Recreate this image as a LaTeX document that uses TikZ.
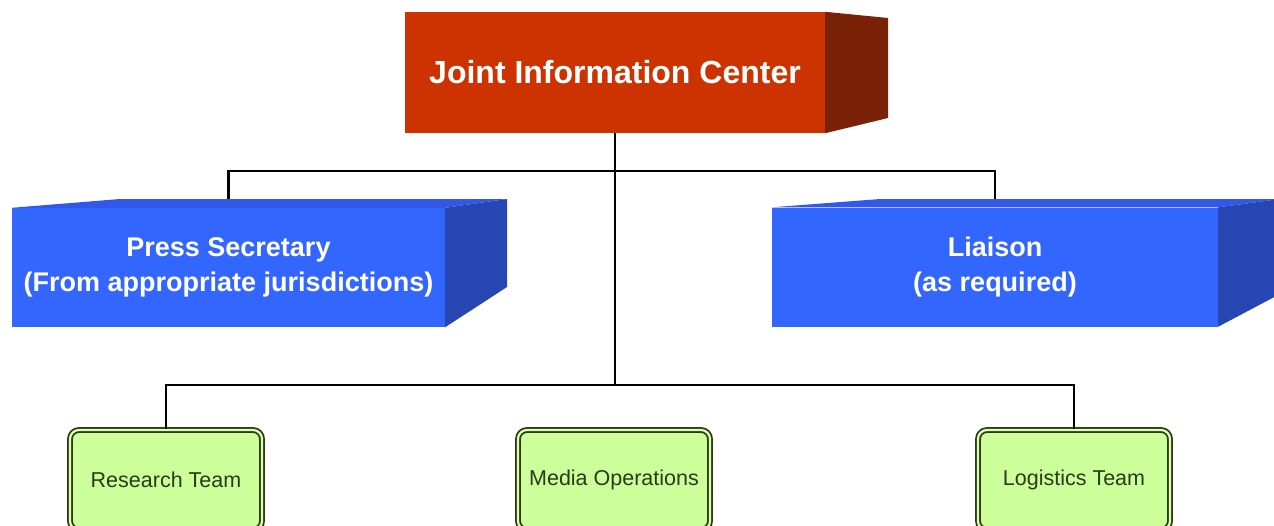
\documentclass[tikz,border=0pt]{standalone}
\usepackage{fontspec}
\setmainfont{Liberation Sans}
\definecolor{jicred}{HTML}{CC3300}
\definecolor{jicside}{HTML}{7A2208}
\definecolor{secblue}{HTML}{3366FF}
\definecolor{sectop}{HTML}{3158E8}
\definecolor{secside}{HTML}{2646B4}
\definecolor{teamfill}{HTML}{CCFF99}
\definecolor{teamline}{HTML}{2E3A10}
\definecolor{teamtext}{HTML}{2A3A1A}
\tikzset{
  jicbox/.style={fill=jicred, inner sep=0pt, minimum width=420pt, minimum height=121pt,
    text=white, font=\bfseries\fontsize{32}{36}\selectfont},
  secbox/.style={fill=secblue, inner sep=0pt, minimum height=119pt, align=center,
    text=white, font=\bfseries\fontsize{27}{35}\selectfont},
  teambox/.style={rounded corners=9pt, draw=teamline, line width=1.8pt, double=teamfill!70!white,
    double distance=2.2pt, fill=teamfill, minimum width=192pt, minimum height=100pt,
    inner sep=0pt, text=teamtext, font=\fontsize{21.5}{24}\selectfont},
  link/.style={line width=2.2pt, black}
}
\begin{document}
\begin{tikzpicture}[x=1pt, y=-1pt]
\useasboundingbox (0,0) rectangle (1274,525);
\clip (0,0) rectangle (1274,525);
\fill [white] (0,0) rectangle (1274,525);
% bus lines
\coordinate (upbus) at (0,171);
\coordinate (lowbus) at (0,385);
% boxes
\node [jicbox] (jic) at (615,72.5) {Joint Information Center};
\node [secbox, minimum width=433pt] (press) at (228.5,267.5) {Press Secretary\\(From appropriate jurisdictions)};
\node [secbox, minimum width=446pt] (liaison) at (995,267) {Liaison\\(as required)};
\node [teambox] (research) at (166,480) {Research Team};
\node [teambox] (media) at (614,480) {Media Operations};
\node [teambox] (logistics) at (1074,480) {Logistics Team};
%connectors
\draw [link] (jic.south) -- (jic.south |- lowbus);
\draw [link] (press.north) -- (press.north |- upbus) -- (liaison.north |- upbus) -- (liaison.north);
\draw [link] (research.north) -- (research.north |- lowbus) -- (logistics.north |- lowbus) -- (logistics.north);
%3d faces
\fill [jicside] (jic.north east) -- (888,18) -- (888,118) -- (jic.south east) -- cycle;
\fill [sectop] (press.north west) -- (120,199) -- (507,199) -- (press.north east) -- cycle;
\fill [secside] (press.north east) -- (507,199) -- (507,287) -- (press.south east) -- cycle;
\fill [sectop] (liaison.north west) -- (880,199) -- (1280,199) -- (liaison.north east) -- cycle;
\fill [secside] (liaison.north east) -- (1280,199) -- (1280,294) -- (liaison.south east) -- cycle;
\end{tikzpicture}
\end{document}
